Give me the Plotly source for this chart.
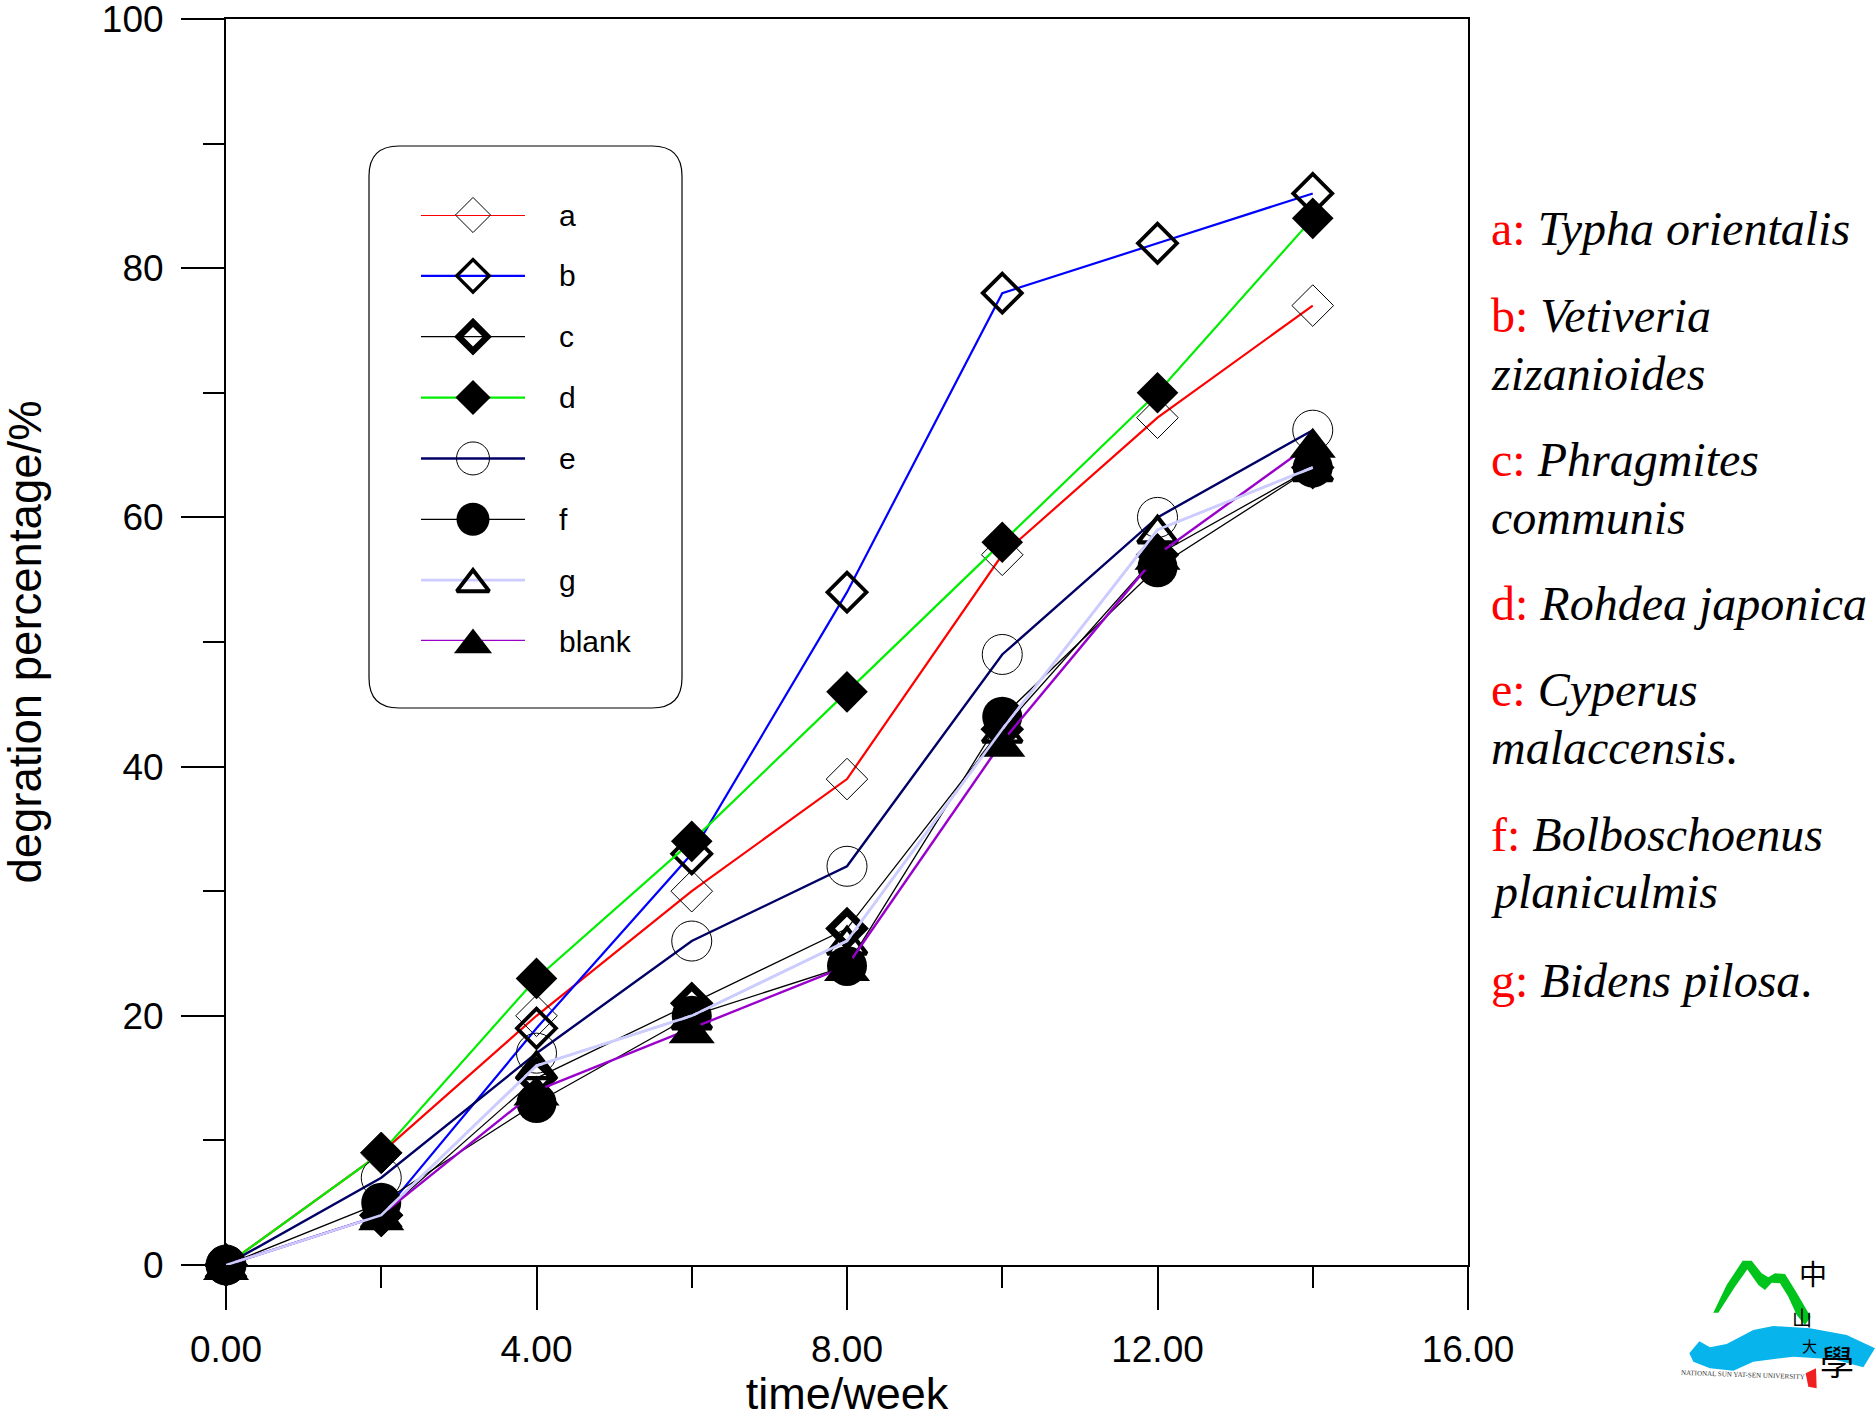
import plotly.graph_objects as go

weeks = [0, 2, 4, 6, 8, 10, 12, 14]
a = [0, 9, 20, 30, 39, 57, 68, 77]
b = [0, 4, 19, 33, 54, 78, 82, 86]
c = [0, 4, 15, 21, 27, 43, 57, 64]
d = [0, 9, 23, 34, 46, 58, 70, 84]
e = [0, 7, 17, 26, 32, 49, 60, 67]
f = [0, 5, 13, 20, 24, 44, 56, 64]
g = [0, 4, 16, 20, 26, 43, 59, 64]
blank = [0, 4, 14, 19, 24, 42, 57, 66]
legend_rows = [0, 1, 2, 3, 4, 5, 6, 7]

W, H = 1875, 1419
L, R, T, B = 226, 1468, 19, 1265
FONT = "Liberation Sans"
SERIF = "Liberation Serif"

def px(x):
    return (x - L) / (R - L)

def py(y):
    return (B - y) / (B - T)

fig = go.Figure()

# name, values, line colour, line width, symbol, plot size, plot stroke, plot standoff, legend size, legend stroke, legend standoff
styles = [
    ("a", a, "#ff0000", 2.2, "diamond-open", 32, 1.0, 0, 27, 1.0, 0),
    ("b", b, "#0000ff", 2.2, "diamond-open", 30, 3.8, 0, 25, 3.4, 0),
    ("c", c, "#000000", 1.3, "diamond-open", 26, 7.0, 0, 22, 6.5, 0),
    ("d", d, "#00ee00", 2.2, "diamond", 32, 0, 0, 27, 0, 0),
    ("e", e, "#000066", 2.4, "circle-open", 40, 1.0, 0, 33, 1.0, 0),
    ("f", f, "#000000", 1.3, "circle", 40, 0, 0, 33, 0, 0),
    ("g", g, "#ccccff", 2.6, "triangle-up-open", 34, 4.2, 4, 28, 4.0, 4),
    ("blank", blank, "#9900cc", 2.4, "triangle-up", 40, 0, 5, 33, 0, 4),
]
for name, vals, col, lw, sym, size, mlw, so, _ls, _lmw, _lso in styles:
    fig.add_trace(go.Scatter(
        x=weeks, y=vals, mode="lines+markers", name=name, cliponaxis=False,
        line=dict(color=col, width=lw),
        marker=dict(symbol=sym, size=size, color="black", standoff=so,
                    line=dict(width=mlw, color="black")),
    ))
fig.add_trace(go.Scatter(
    x=weeks, y=g, mode="lines", cliponaxis=False,
    line=dict(color="#ccccff", width=2.6),
))

# hand-built legend on a hidden overlay axis pair (one row per series)
anns = []
for row, (name, vals, col, lw, sym, _s, _m, _so, ls, lmw, lso) in zip(legend_rows, styles):
    fig.add_trace(go.Scatter(
        x=[0, 1], y=[row, row], mode="lines", xaxis="x2", yaxis="y2",
        line=dict(color=col, width=lw), cliponaxis=False,
    ))
    fig.add_trace(go.Scatter(
        x=[0.5], y=[row], mode="markers", xaxis="x2", yaxis="y2", cliponaxis=False,
        marker=dict(symbol=sym, size=ls, color="black", standoff=lso,
                    line=dict(width=lmw, color="black")),
    ))
    anns.append(dict(x=1.31, y=row, xref="x2", yref="y2", text=name, showarrow=False,
                     xanchor="left", yanchor="middle",
                     font=dict(family=FONT, size=30, color="black")))

shapes = []
x0, x1, y0, y1, r = px(369), px(682), py(146), py(708), 30
rx, ry = r / (R - L), r / (B - T)
shapes.append(dict(
    type="path", xref="paper", yref="paper", layer="below",
    line=dict(color="black", width=1.2),
    path=(f"M{x0+rx},{y0} L{x1-rx},{y0} Q{x1},{y0} {x1},{y0-ry} L{x1},{y1+ry} "
          f"Q{x1},{y1} {x1-rx},{y1} L{x0+rx},{y1} Q{x0},{y1} {x0},{y1+ry} "
          f"L{x0},{y0-ry} Q{x0},{y0} {x0+rx},{y0} Z"),
))

# university logo (decorative)
def poly(pts, fill):
    pp = [(1660 + u / 3, 1240 + v / 3) for u, v in pts]
    s = "M" + " L".join(f"{px(u)},{py(v)}" for u, v in pp) + " Z"
    return dict(type="path", xref="paper", yref="paper", path=s,
                fillcolor=fill, line=dict(width=0))

ridge = [(160, 218), (200, 135), (248, 62), (275, 62), (305, 100), (325, 112), (345, 100),
         (375, 102), (405, 150), (452, 230), (435, 255), (410, 225), (385, 170), (360, 130),
         (335, 128), (315, 150), (295, 135), (262, 88), (225, 140), (175, 218)]
water = [(88, 340), (118, 304), (150, 322), (200, 312), (280, 270), (340, 258), (450, 265),
         (560, 285), (645, 325), (610, 382), (520, 358), (400, 350), (280, 365), (220, 392),
         (150, 385), (100, 365)]
shapes += [poly(ridge, "#00c41c"), poly(water, "#08b4ec")]
shapes.append(poly([(437, 400), (468, 385), (470, 445), (445, 440)], "#f02020"))

lines = [
    (228, "<span style='color:red'>a: </span><i>Typha orientalis</i>"),
    (316, "<span style='color:red'>b: </span><i>Vetiveria</i>"),
    (373, "<i>zizanioides</i>"),
    (460, "<span style='color:red'>c: </span><i>Phragmites</i>"),
    (517, "<i>communis</i>"),
    (603, "<span style='color:red'>d: </span><i>Rohdea japonica</i>"),
    (690, "<span style='color:red'>e: </span><i>Cyperus</i>"),
    (748, "<i>malaccensis</i>."),
    (834, "<span style='color:red'>f: </span><i>Bolboschoenus</i>"),
    (892, "<i>planiculmis</i>"),
    (980, "<span style='color:red'>g: </span><i>Bidens pilosa</i>."),
]
for yy, txt in lines:
    anns.append(dict(x=px(1489), y=py(yy), xref="paper", yref="paper", text=txt,
                     showarrow=False, xanchor="left", yanchor="middle",
                     font=dict(family=SERIF, size=48, color="black")))

for ch, u, v, s in [("中", 460, 100, 28), ("山", 425, 232, 20), ("大", 450, 315, 15), ("學", 530, 360, 34)]:
    anns.append(dict(x=px(1660 + u / 3), y=py(1240 + v / 3), xref="paper", yref="paper", text=ch,
                     showarrow=False, xanchor="center", yanchor="middle",
                     font=dict(family="Noto Sans CJK TC", size=s, color="black")))
anns.append(dict(x=px(1660 + 250 / 3), y=py(1240 + 405 / 3), xref="paper", yref="paper",
                 text="NATIONAL SUN YAT-SEN UNIVERSITY", showarrow=False, textangle=2,
                 xanchor="center", yanchor="middle",
                 font=dict(family=SERIF, size=7, color="#333333")))

fig.update_layout(
    width=W, height=H, autosize=False,
    margin=dict(l=L, r=W - R, t=T, b=H - B),
    paper_bgcolor="white", plot_bgcolor="white",
    font=dict(family=FONT, color="black"),
    shapes=shapes, annotations=anns,
    showlegend=False,
    xaxis=dict(
        range=[0, 16], tickmode="array", tickvals=[0, 4, 8, 12, 16], tickformat=".2f",
        ticks="outside", ticklen=43, tickwidth=2, tickcolor="black",
        linecolor="black", linewidth=2, mirror=True, showgrid=False, zeroline=False,
        tickfont=dict(size=37), automargin=False, ticklabeloverflow="allow",
        ticklabelstandoff=8,
        minor=dict(tickvals=[2, 6, 10, 14], ticks="outside", ticklen=21, tickwidth=2,
                   tickcolor="black", showgrid=False),
        title=dict(text="time/week", font=dict(size=45), standoff=18),
    ),
    yaxis=dict(
        range=[0, 100], tickmode="array", tickvals=[0, 20, 40, 60, 80, 100],
        ticks="outside", ticklen=43, tickwidth=2, tickcolor="black",
        linecolor="black", linewidth=2, mirror=True, showgrid=False, zeroline=False,
        tickfont=dict(size=37), automargin=False, ticklabeloverflow="allow",
        ticklabelstandoff=10,
        minor=dict(tickvals=[10, 30, 50, 70, 90], ticks="outside", ticklen=21, tickwidth=2,
                   tickcolor="black", showgrid=False),
        title=dict(text="degration percentage/%", font=dict(size=45.5), standoff=66),
    ),
    xaxis2=dict(domain=[px(421), px(645)], range=[0, 224 / 104], anchor="y2", visible=False, fixedrange=True),
    yaxis2=dict(domain=[py(641), py(215)], range=[7, 0], anchor="x2", visible=False, fixedrange=True),
)

fig.write_html("out.html", config={"displayModeBar": False},
               post_script="document.body.style.margin='0';")
